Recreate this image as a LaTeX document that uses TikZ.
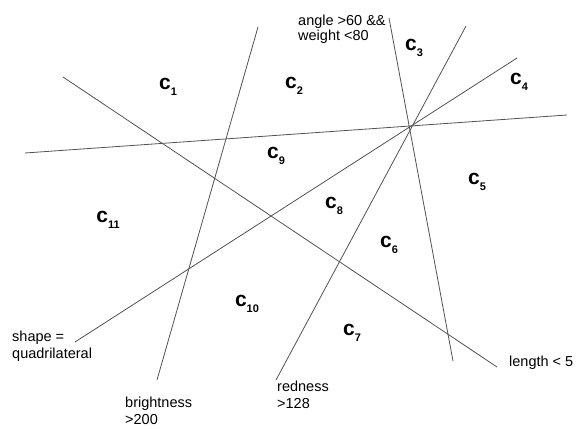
\documentclass[tikz,border=0pt]{standalone}
\usepackage{fontspec}
\setmainfont{Liberation Sans}
\usetikzlibrary{positioning}
\tikzset{
  bound/.style={draw=black!68,line width=0.8pt},
  cond/.style={font=\fontsize{14.5}{17}\selectfont,align=left,inner sep=0pt,anchor=west},
  cls/.style={font=\bfseries\fontsize{21}{21}\selectfont,inner sep=0pt},
}
\newcommand{\clab}[1]{c\raisebox{-0.26em}{\fontsize{11}{11}\selectfont #1}}

\begin{document}
\begin{tikzpicture}[x=1pt,y=-1pt]
  \useasboundingbox (0,0) rectangle (577,428);
  % end points of the boundaries
  \coordinate (horizA) at (25,153);
  \coordinate (horizB) at (567,115);
  \coordinate (lenA) at (63,77);
  \coordinate (lenB) at (497,367);
  \coordinate (brightA) at (258,27);
  \coordinate (brightB) at (157,380);
  \coordinate (angleA) at (389,18);
  \coordinate (angleB) at (453,361);
  \coordinate (redA) at (466,26);
  \coordinate (redB) at (276,380);
  \coordinate (shapeA) at (517,58);
  \coordinate (shapeB) at (75,342);
  \foreach \a in {horiz,len,bright,angle,red,shape}{
    \draw[bound] (\a A) -- (\a B);
  }
  % conditions
  \node[cond] (shape) at (12,346) {shape =\\quadrilateral};
  \node[cond] (bright) at (125,411) {brightness\\>200};
  \node[cond] (red) at (277,395) {redness\\>128};
  \node[cond] (len) at (509,363) {length < 5};
  \node[cond,font=\fontsize{14.5}{15}\selectfont] (angle) at (298,29) {angle >60 \&\&\\weight <80};
  % classes
  \foreach \n/\x/\y in {1/168/87,2/294/86,3/414/48,4/519/82,5/477/182,6/389/245,7/352/333,8/334/206,9/276/156,10/247/304,11/108/220}{
    \node[cls] (c\n) at (\x,\y) {\clab{\n}};
  }
\end{tikzpicture}
\end{document}
